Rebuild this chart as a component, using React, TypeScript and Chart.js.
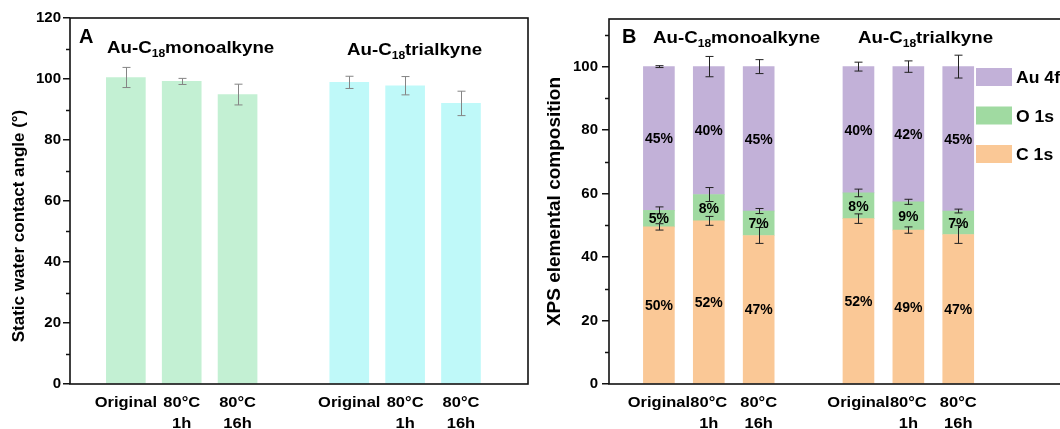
import React, { useEffect, useRef } from 'react';
import { Chart, registerables } from 'chart.js';

Chart.register(...registerables);

const FONT = 'Arial, "Liberation Sans", Helvetica, sans-serif';

// ---------- shared ----------
const sampleLabels = [['Original'], ['80°C', '1h'], ['80°C', '16h']];
const monoSlots = [0, 1, 2];
const triSlots = [4, 5, 6];
const groupTitles = [
  ['Au-C', '18', 'monoalkyne'],
  ['Au-C', '18', 'trialkyne'],
];

// ---------- panel A: contact angle ----------
const monoAngle = [100.5, 99.2, 94.9];
const monoAngleErr = [3.3, 1.0, 3.4];
const triAngle = [98.9, 97.8, 92.0];
const triAngleErr = [2.0, 3.0, 4.0];
const angleTicks = [0, 20, 40, 60, 80, 100, 120];
const angleTitle = 'Static water contact angle (°)';

// ---------- panel B: XPS composition ----------
const elementNames = ['C 1s', 'O 1s', 'Au 4f'];
const monoC = [49.5, 51.4, 46.8];
const monoO = [5.2, 8.3, 7.7];
const monoAu = [45.3, 40.3, 45.5];
const triC = [52.1, 48.5, 47.1];
const triO = [8.1, 8.9, 7.4];
const triAu = [39.8, 42.6, 45.5];
const monoCErr = [1.0, 1.4, 2.5];
const monoOErr = [1.1, 2.2, 0.8];
const monoAuErr = [0.3, 3.2, 2.2];
const triCErr = [1.5, 1.0, 2.8];
const triOErr = [1.2, 0.8, 0.6];
const triAuErr = [1.4, 1.8, 3.6];
const monoCLabels = ['50%', '52%', '47%'];
const monoOLabels = ['5%', '8%', '7%'];
const monoAuLabels = ['45%', '40%', '45%'];
const triCLabels = ['52%', '49%', '47%'];
const triOLabels = ['8%', '9%', '7%'];
const triAuLabels = ['40%', '42%', '45%'];
const compTicks = [0, 20, 40, 60, 80, 100];
const compTitle = 'XPS elemental composition';

const slots = [...monoSlots, ...triSlots];
const toPoints = (mono: number[], tri: number[]) =>
  slots.map((x, i) => ({ x, y: i < 3 ? mono[i] : tri[i - 3] }));

function drawCompound(ctx: CanvasRenderingContext2D, x: number, baseline: number, parts: string[], size: number, sx: number) {
  ctx.save();
  ctx.translate(x, baseline);
  ctx.scale(sx, 1);
  ctx.fillStyle = '#000';
  ctx.textAlign = 'left';
  ctx.textBaseline = 'alphabetic';
  ctx.font = `bold ${size}px ${FONT}`;
  ctx.fillText(parts[0], 0, 0);
  let cx = ctx.measureText(parts[0]).width;
  const sub = Math.round(size * 0.65);
  ctx.font = `bold ${sub}px ${FONT}`;
  ctx.fillText(parts[1], cx, size * 0.26);
  cx += ctx.measureText(parts[1]).width;
  ctx.font = `bold ${size}px ${FONT}`;
  ctx.fillText(parts[2], cx, 0);
  ctx.restore();
}

function drawStretched(ctx: CanvasRenderingContext2D, text: string, x: number, y: number, size: number, sx: number, align = 'center') {
  ctx.save();
  ctx.font = `bold ${size}px ${FONT}`;
  const w = ctx.measureText(text).width * sx;
  ctx.translate(align === 'center' ? x - w / 2 : x, y);
  ctx.scale(sx, 1);
  ctx.textAlign = 'left';
  ctx.textBaseline = 'alphabetic';
  ctx.fillStyle = '#000';
  ctx.fillText(text, 0, 0);
  ctx.restore();
}

type PanelDeco = {
  letter: string;
  letterX: number;
  letterBase: number;
  titleX: number[];
  titleBase: number[];
  yTitle: string;
  yTitleX: number;
  yTitleY: number;
  yTitleSize: number;
  errColor: string;
  showPct: boolean;
  legend?: { x: number; ys: number[]; names: string[]; colors: string[] };
};

function makeDecoPlugin(d: PanelDeco) {
  return {
    id: 'deco' + d.letter,
    afterDraw(chart: any) {
      const ctx: CanvasRenderingContext2D = chart.ctx;
      const { left, right, top, bottom } = chart.chartArea;
      const ys = chart.scales.y;
      const xs = chart.scales.x;
      ctx.save();

      // error bars
      ctx.strokeStyle = d.errColor;
      ctx.lineWidth = 1;
      chart.data.datasets.forEach((ds: any, di: number) => {
        const meta = chart.getDatasetMeta(di);
        meta.data.forEach((el: any, i: number) => {
          const err = ds.errors[i];
          const topVal = ys.getValueForPixel(el.y);
          const y1 = ys.getPixelForValue(topVal + err);
          const y2 = ys.getPixelForValue(topVal - err);
          const x = Math.round(el.x) + 0.5;
          ctx.beginPath();
          ctx.moveTo(x, y1);
          ctx.lineTo(x, y2);
          ctx.moveTo(x - 4, y1);
          ctx.lineTo(x + 4, y1);
          ctx.moveTo(x - 4, y2);
          ctx.lineTo(x + 4, y2);
          ctx.stroke();
        });
      });

      // percentage labels
      if (d.showPct) {
        ctx.fillStyle = '#000';
        ctx.font = `bold 14px ${FONT}`;
        ctx.textAlign = 'center';
        ctx.textBaseline = 'middle';
        chart.data.datasets.forEach((ds: any, di: number) => {
          const meta = chart.getDatasetMeta(di);
          meta.data.forEach((el: any, i: number) => {
            ctx.fillText(ds.pct[i], el.x, (el.y + el.base) / 2 + 1);
          });
        });
      }

      // frame
      ctx.strokeStyle = '#111';
      ctx.lineWidth = 1.6;
      ctx.strokeRect(left, top, right - left, bottom - top);

      // minor ticks
      ctx.lineWidth = 1.5;
      const ticks = ys.ticks.map((t: any) => t.value);
      for (let i = 0; i < ticks.length; i++) {
        const v = ticks[i] + (ticks[1] - ticks[0]) / 2;
        if (v >= ys.max) continue;
        const py = Math.round(ys.getPixelForValue(v)) + 0.5;
        ctx.beginPath();
        ctx.moveTo(left - 4, py);
        ctx.lineTo(left, py);
        ctx.stroke();
      }

      // x labels
      slots.forEach((s, i) => {
        const px = xs.getPixelForValue(s);
        const lines = sampleLabels[i % 3];
        lines.forEach((ln, li) => drawStretched(ctx, ln, px, 406.5 + li * 21, 15, 1.1));
      });

      // letter and group titles
      ctx.fillStyle = '#000';
      ctx.font = `bold 20px ${FONT}`;
      ctx.textAlign = 'left';
      ctx.textBaseline = 'alphabetic';
      ctx.fillText(d.letter, d.letterX, d.letterBase);
      groupTitles.forEach((g, i) => drawCompound(ctx, d.titleX[i], d.titleBase[i], g, 17, 1.1));

      // y title
      ctx.save();
      ctx.translate(d.yTitleX, d.yTitleY);
      ctx.rotate(-Math.PI / 2);
      ctx.font = `bold ${d.yTitleSize}px ${FONT}`;
      ctx.textAlign = 'center';
      ctx.textBaseline = 'middle';
      ctx.fillText(d.yTitle, 0, 0);
      ctx.restore();

      // legend
      if (d.legend) {
        const lg = d.legend;
        lg.names.forEach((n, i) => {
          ctx.fillStyle = lg.colors[i];
          ctx.fillRect(lg.x, lg.ys[i] - 9, 36, 18);
          drawStretched(ctx, n, lg.x + 40, lg.ys[i] + 6, 16, 1.1, 'left');
        });
      }
      ctx.restore();
    },
  };
}

const yTickFont = { family: FONT, size: 15, weight: 'bold' as const };

function ChartA() {
  const ref = useRef<HTMLCanvasElement>(null);
  useEffect(() => {
    if (!ref.current) return;
    const chart = new Chart(ref.current, {
      type: 'bar',
      data: {
        datasets: [
          {
            label: 'Au-C18 monoalkyne',
            data: monoSlots.map((x, i) => ({ x, y: monoAngle[i] })),
            backgroundColor: '#c3f0d3',
            barThickness: 39,
            errors: monoAngleErr,
          } as any,
          {
            label: 'Au-C18 trialkyne',
            data: triSlots.map((x, i) => ({ x, y: triAngle[i] })),
            backgroundColor: '#bff9f9',
            barThickness: 39,
            errors: triAngleErr,
          } as any,
        ],
      },
      options: {
        responsive: false,
        animation: false,
        layout: { padding: { top: 18, right: 2, left: 0, bottom: 0 } },
        plugins: { legend: { display: false }, tooltip: { enabled: false } },
        scales: {
          x: {
            type: 'linear',
            min: -1,
            max: 7.2,
            offset: false,
            stacked: true,
            ticks: { display: false },
            grid: { display: false },
            border: { display: false },
            afterFit: (s: any) => { s.height = 45; },
          },
          y: {
            type: 'linear',
            min: 0,
            max: 120,
            afterBuildTicks: (s: any) => { s.ticks = angleTicks.map((v) => ({ value: v })); },
            ticks: { font: yTickFont, color: '#000', padding: 2 },
            grid: { drawOnChartArea: false, drawTicks: true, tickLength: 7, color: '#111', lineWidth: 1.5 },
            border: { display: false },
            afterFit: (s: any) => { s.width = 70; },
          },
        },
      } as any,
      plugins: [
        makeDecoPlugin({
          letter: 'A',
          letterX: 79,
          letterBase: 43,
          titleX: [107, 347],
          titleBase: [52.5, 54.5],
          yTitle: angleTitle,
          yTitleX: 19,
          yTitleY: 226,
          yTitleSize: 17,
          errColor: '#858585',
          showPct: false,
        }),
      ],
    });
    return () => chart.destroy();
  }, []);
  return <canvas ref={ref} width={530} height={429} style={{ position: 'absolute', left: 0, top: 0 }} />;
}

const colC = '#fac896';
const colO = '#a0daa1';
const colAu = '#c2b1d8';

function ChartB() {
  const ref = useRef<HTMLCanvasElement>(null);
  useEffect(() => {
    if (!ref.current) return;
    const chart = new Chart(ref.current, {
      type: 'bar',
      data: {
        datasets: [
          {
            label: elementNames[0],
            data: toPoints(monoC, triC),
            backgroundColor: colC,
            barThickness: 31,
            errors: [...monoCErr, ...triCErr],
            pct: [...monoCLabels, ...triCLabels],
          } as any,
          {
            label: elementNames[1],
            data: toPoints(monoO, triO),
            backgroundColor: colO,
            barThickness: 31,
            errors: [...monoOErr, ...triOErr],
            pct: [...monoOLabels, ...triOLabels],
          } as any,
          {
            label: elementNames[2],
            data: toPoints(monoAu, triAu),
            backgroundColor: colAu,
            barThickness: 31,
            errors: [...monoAuErr, ...triAuErr],
            pct: [...monoAuLabels, ...triAuLabels],
          } as any,
        ],
      },
      options: {
        responsive: false,
        animation: false,
        layout: { padding: { top: 19, right: 17, left: 0, bottom: 0 } },
        plugins: { legend: { display: false }, tooltip: { enabled: false } },
        scales: {
          x: {
            type: 'linear',
            min: -1,
            max: 8.3,
            offset: false,
            stacked: true,
            ticks: { display: false },
            grid: { display: false },
            border: { display: false },
            afterFit: (s: any) => { s.height = 45; },
          },
          y: {
            type: 'linear',
            min: 0,
            max: 115,
            stacked: true,
            afterBuildTicks: (s: any) => { s.ticks = compTicks.map((v) => ({ value: v })); },
            ticks: { font: yTickFont, color: '#000', padding: 4 },
            grid: { drawOnChartArea: false, drawTicks: true, tickLength: 7, color: '#111', lineWidth: 1.5 },
            border: { display: false },
            afterFit: (s: any) => { s.width = 79; },
          },
        },
      } as any,
      plugins: [
        makeDecoPlugin({
          letter: 'B',
          letterX: 92,
          letterBase: 43,
          titleX: [123, 328],
          titleBase: [42.5, 42.5],
          yTitle: compTitle,
          yTitleX: 25,
          yTitleY: 201.5,
          yTitleSize: 19,
          errColor: '#222',
          showPct: true,
          legend: {
            x: 446,
            ys: [77, 115.5, 154],
            names: [elementNames[2], elementNames[1], elementNames[0]],
            colors: [colAu, colO, colC],
          },
        }),
      ],
    });
    return () => chart.destroy();
  }, []);
  return <canvas ref={ref} width={560} height={429} style={{ position: 'absolute', left: 530, top: 0 }} />;
}

export default function App() {
  return (
    <div
      style={{
        position: 'fixed',
        left: 0,
        top: 0,
        width: 1060,
        height: 429,
        overflow: 'hidden',
        background: '#fff',
      }}
    >
      <ChartA />
      <ChartB />
    </div>
  );
}
